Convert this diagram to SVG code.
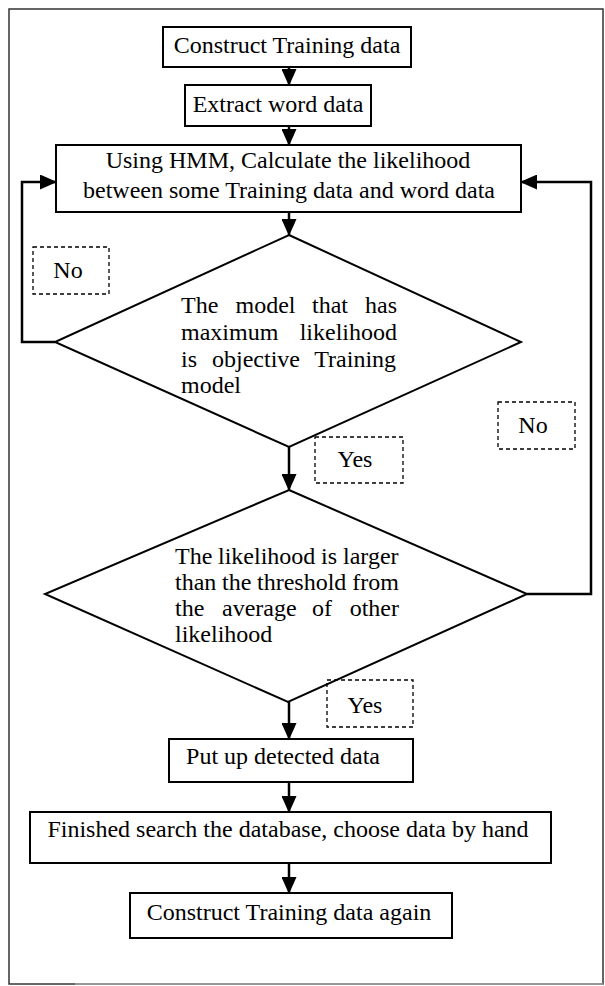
<svg xmlns="http://www.w3.org/2000/svg" width="605" height="986" viewBox="0 0 605 986">
<style>
.box{fill:#fff;stroke:#000;stroke-width:2}
.dia{fill:none;stroke:#000;stroke-width:2}
.lbl{fill:none;stroke:#000;stroke-width:1.3;stroke-dasharray:4 3}
.t{font-family:"Liberation Serif","Times New Roman",serif;font-size:24px;fill:#000}
.c{text-anchor:middle}
.con{fill:none;stroke:#000;stroke-width:2.5}
</style>
<defs>
<marker id="ah" markerUnits="userSpaceOnUse" markerWidth="17" markerHeight="15" refX="16" refY="7.5" orient="auto">
<path d="M0,0 L17,7.5 L0,15 z" fill="#000"/>
</marker>
</defs>
<rect x="9" y="9" width="594" height="975" fill="#fff" stroke="#333" stroke-width="1.5"/>
<line x1="75" y1="984" x2="603" y2="984" stroke="#aaa" stroke-width="1.6"/>
<g id="connectors">
<line class="con" x1="289" y1="67" x2="289" y2="85" marker-end="url(#ah)"/>
<line class="con" x1="289" y1="126" x2="289" y2="145" marker-end="url(#ah)"/>
<line class="con" x1="289" y1="212" x2="289" y2="235" marker-end="url(#ah)"/>
<line class="con" x1="289" y1="447" x2="289" y2="490" marker-end="url(#ah)"/>
<line class="con" x1="289" y1="702" x2="289" y2="739" marker-end="url(#ah)"/>
<line class="con" x1="289" y1="782" x2="289" y2="812" marker-end="url(#ah)"/>
<line class="con" x1="289" y1="863" x2="289" y2="893" marker-end="url(#ah)"/>
<polyline class="con" points="55,342 22,342 22,182 56,182" marker-end="url(#ah)"/>
<polyline class="con" points="527,594 591,594 591,182 521,182" marker-end="url(#ah)"/>
</g>
<g id="n1">
<rect class="box" x="163" y="27" width="248" height="40"/>
<text class="t c" x="287" y="53">Construct Training data</text>
</g>
<g id="n2">
<rect class="box" x="185" y="85" width="186" height="41"/>
<text class="t c" x="278" y="112">Extract word data</text>
</g>
<g id="n3">
<rect class="box" x="56" y="145" width="465" height="67"/>
<text class="t c" x="288" y="168">Using HMM, Calculate the likelihood</text>
<text class="t c" x="289" y="198">between some Training data and word data</text>
</g>
<g id="d1">
<polygon class="dia" points="289,235 521,342 289,447 55,342"/>
<text class="t" y="313"><tspan x="181">The</tspan><tspan x="235.5">model</tspan><tspan x="312">that</tspan><tspan x="365">has</tspan></text>
<text class="t" y="340"><tspan x="181">maximum</tspan><tspan x="299.7">likelihood</tspan></text>
<text class="t" y="367"><tspan x="181">is</tspan><tspan x="212">objective</tspan><tspan x="314.3">Training</tspan></text>
<text class="t" x="181" y="393">model</text>
</g>
<g id="d2">
<polygon class="dia" points="289,490 527,594 288,702 45,594"/>
<text class="t" y="564"><tspan x="175">The</tspan><tspan x="218">likelihood</tspan><tspan x="321">is</tspan><tspan x="343">larger</tspan></text>
<text class="t" y="590"><tspan x="175">than</tspan><tspan x="222">the</tspan><tspan x="257">threshold</tspan><tspan x="352.3">from</tspan></text>
<text class="t" y="616"><tspan x="175">the</tspan><tspan x="222">average</tspan><tspan x="312">of</tspan><tspan x="349.7">other</tspan></text>
<text class="t" x="175" y="642">likelihood</text>
</g>
<g id="lNo1">
<rect class="lbl" x="33" y="247" width="76" height="47"/>
<text class="t c" x="68" y="278">No</text>
</g>
<g id="lYes1">
<rect class="lbl" x="315" y="437" width="88" height="46"/>
<text class="t c" x="355" y="467">Yes</text>
</g>
<g id="lNo2">
<rect class="lbl" x="498" y="402" width="77" height="47"/>
<text class="t c" x="533" y="433">No</text>
</g>
<g id="lYes2">
<rect class="lbl" x="327" y="680" width="86" height="47"/>
<text class="t c" x="365" y="713">Yes</text>
</g>
<g id="n4">
<rect class="box" x="169" y="739" width="244" height="43"/>
<text class="t c" x="283" y="764">Put up detected data</text>
</g>
<g id="n5">
<rect class="box" x="30" y="812" width="521" height="51"/>
<text class="t c" x="288" y="837">Finished search the database, choose data by hand</text>
</g>
<g id="n6">
<rect class="box" x="130" y="893" width="322" height="45"/>
<text class="t c" x="289" y="920">Construct Training data again</text>
</g>
</svg>
